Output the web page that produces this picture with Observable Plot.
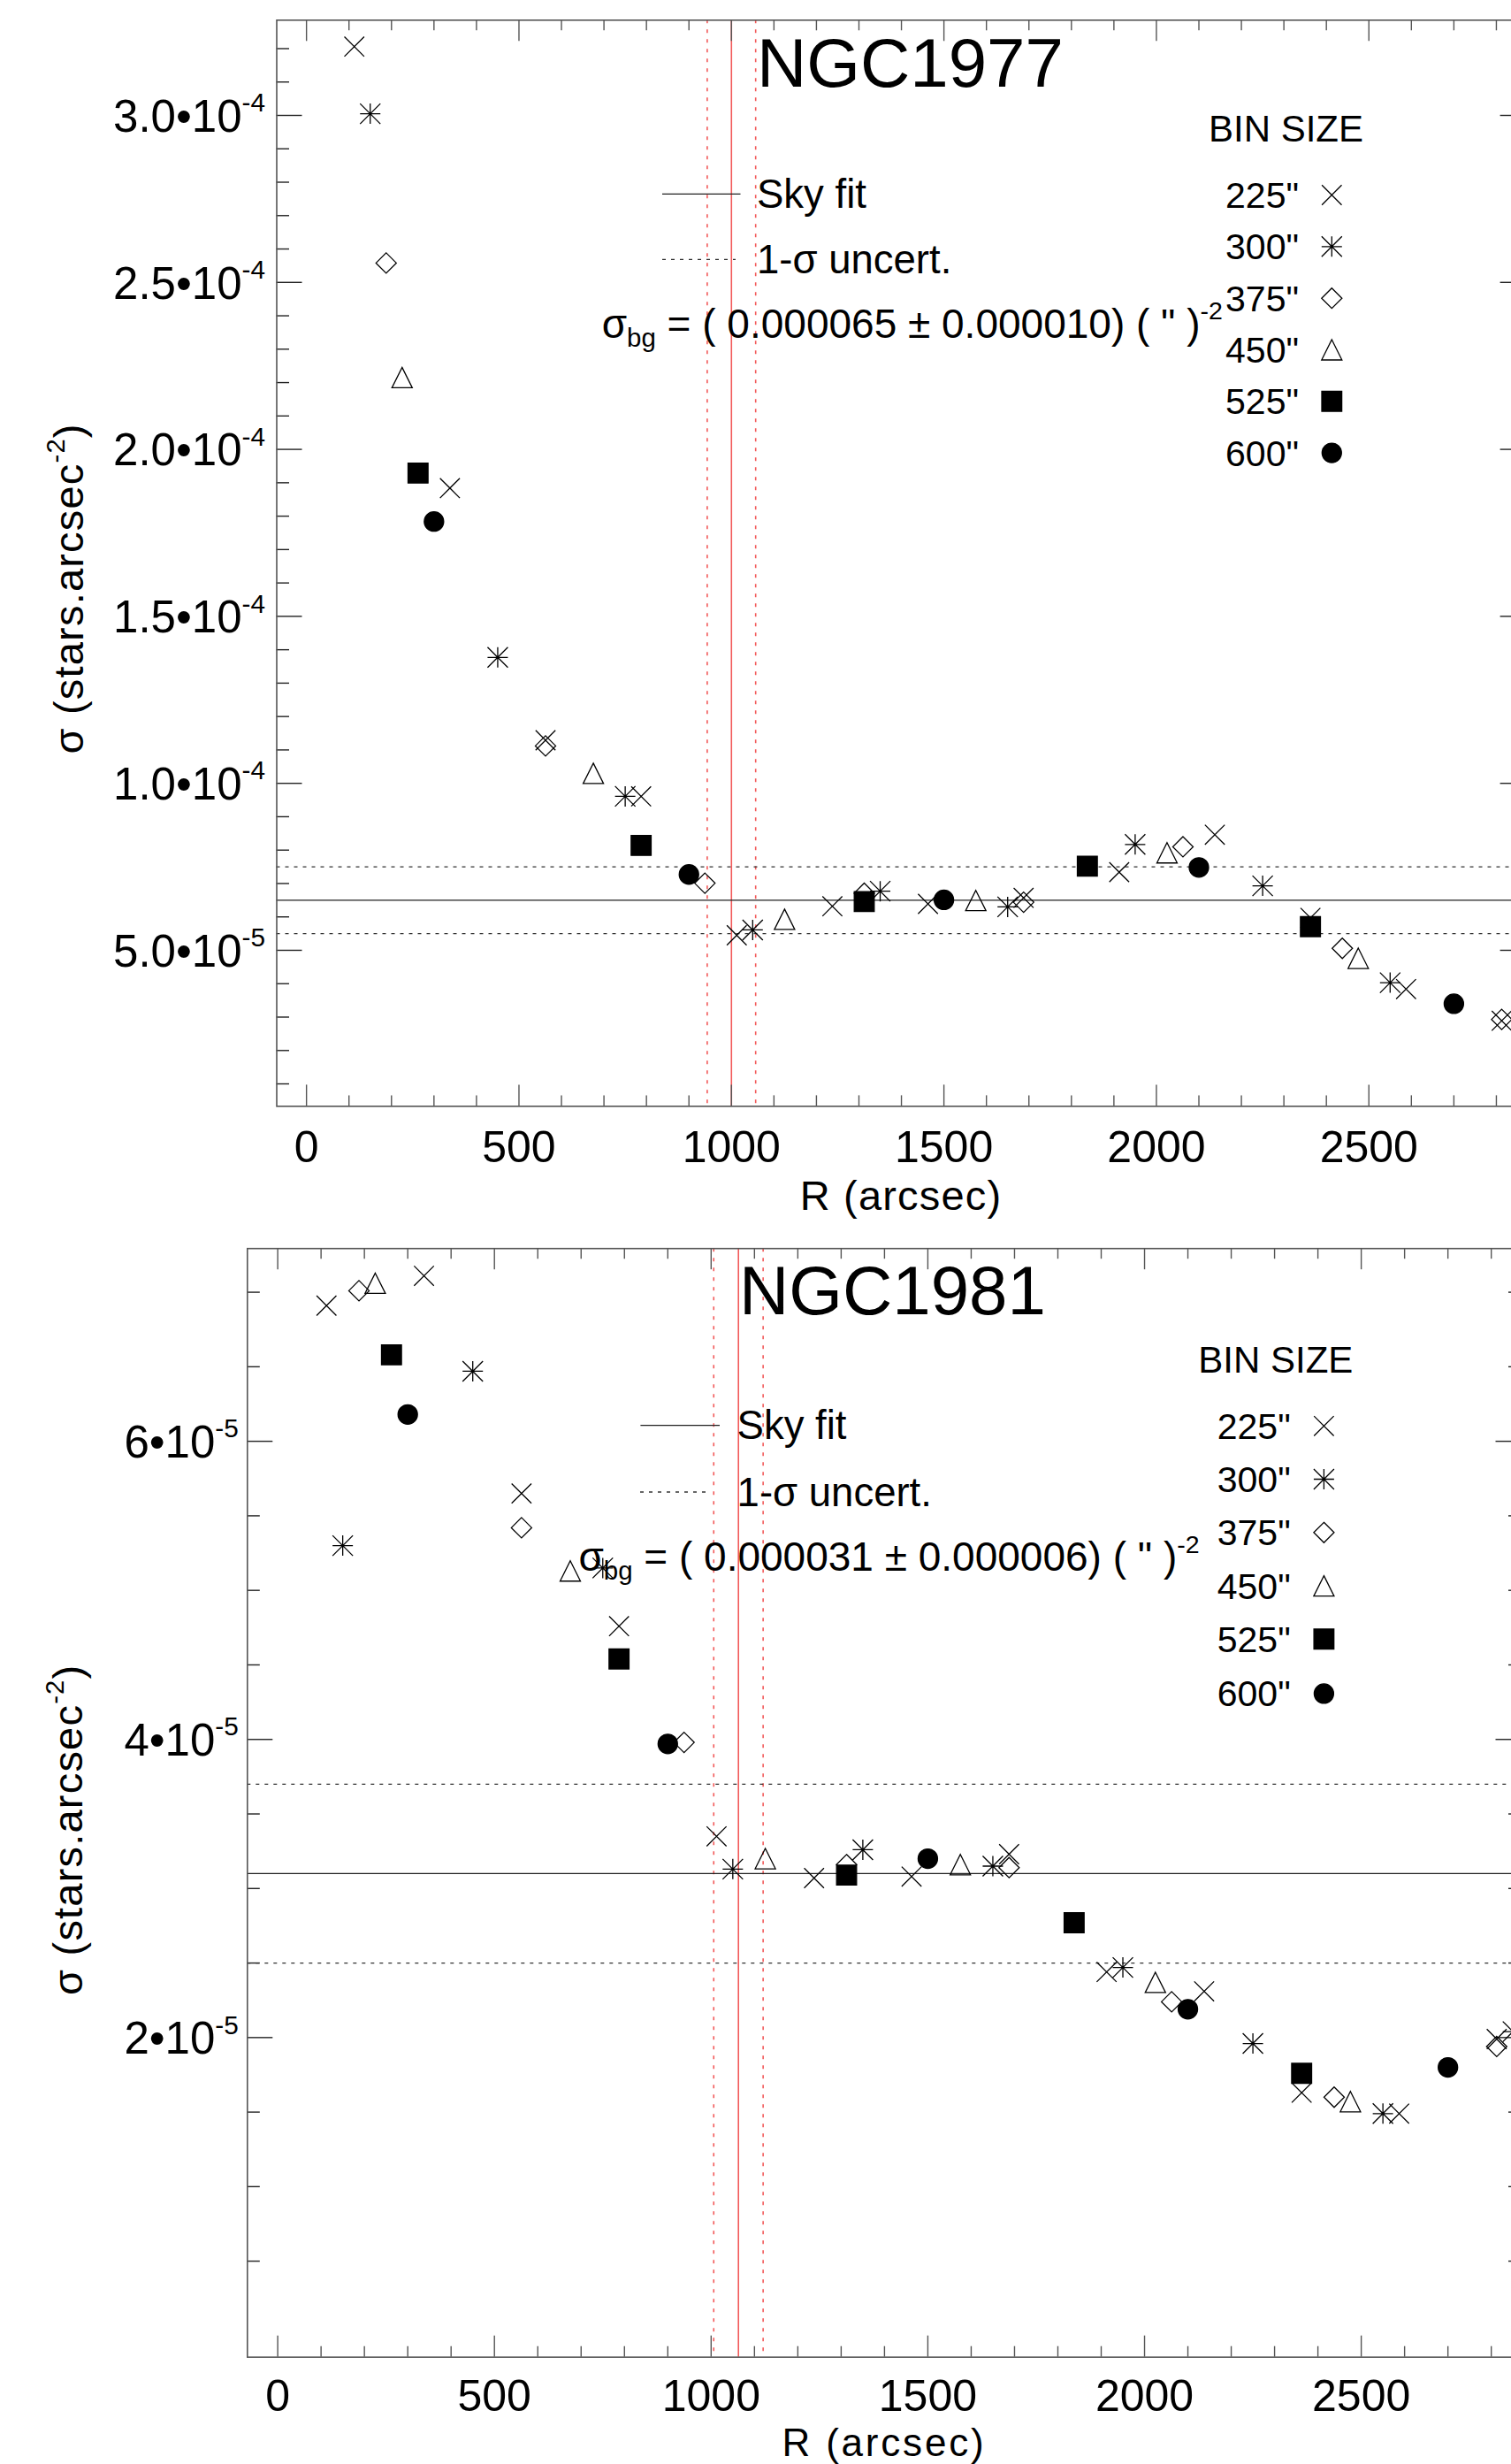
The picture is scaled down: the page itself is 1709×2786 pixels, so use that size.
<!DOCTYPE html>
<html>
<head>
<meta charset="utf-8">
<script src="https://cdn.jsdelivr.net/npm/d3@7"></script>
<script src="https://cdn.jsdelivr.net/npm/@observablehq/plot@0.6"></script>
<style>
  html, body { margin: 0; padding: 0; background: #fff; overflow: hidden; }
  #wrap { width: 1709px; height: 2786px; overflow: hidden; position: relative; background: #fff; }
  #wrap svg { display: block; max-width: none !important; }
</style>
</head>
<body>
<div id="wrap"></div>
<script>
// ---------------- DATA ----------------
const binLabels = ['225"', '300"', '375"', '450"', '525"', '600"'];

// radial bin centres (arcsec) per bin size
const r225 = [112.5, 337.5, 562.5, 787.5, 1012.5, 1237.5, 1462.5, 1687.5, 1912.5, 2137.5, 2362.5, 2587.5, 2812.5];
const r300 = [150, 450, 750, 1050, 1350, 1650, 1950, 2250, 2550, 2850];
const r375 = [187.5, 562.5, 937.5, 1312.5, 1687.5, 2062.5, 2437.5, 2812.5];
const r450 = [225, 675, 1125, 1575, 2025, 2475];
const r525 = [262.5, 787.5, 1312.5, 1837.5, 2362.5];
const r600 = [300, 900, 1500, 2100, 2700];

// NGC1977 surface density (stars arcsec^-2)
const n1977_225 = [3.206e-4, 1.884e-4, 1.129e-4, 9.61e-5, 5.45e-5, 6.32e-5, 6.39e-5, 6.57e-5, 7.34e-5, 8.46e-5, 5.97e-5, 3.84e-5, 2.89e-5];
const n1977_300 = [3.005e-4, 1.377e-4, 9.61e-5, 5.61e-5, 6.77e-5, 6.30e-5, 8.17e-5, 6.93e-5, 4.03e-5, null];
const n1977_375 = [2.558e-4, 1.112e-4, 7.01e-5, 6.71e-5, 6.44e-5, 8.10e-5, 5.06e-5, 2.93e-5];
const n1977_450 = [2.215e-4, 1.03e-4, 5.93e-5, 6.49e-5, 7.92e-5, 4.76e-5];
const n1977_525 = [1.929e-4, 8.14e-5, 6.46e-5, 7.52e-5, 5.71e-5];
const n1977_600 = [1.784e-4, 7.27e-5, 6.51e-5, 7.48e-5, 3.40e-5];

// NGC1981 surface density (stars arcsec^-2)
const n1981_225 = [6.91e-5, 7.11e-5, 5.65e-5, 4.76e-5, 3.35e-5, 3.07e-5, 3.08e-5, 3.23e-5, 2.44e-5, 2.31e-5, 1.63e-5, 1.49e-5, 1.99e-5];
const n1981_300 = [5.30e-5, 6.47e-5, 5.15e-5, 3.13e-5, 3.26e-5, 3.15e-5, 2.47e-5, 1.96e-5, 1.49e-5, 2.04e-5];
const n1981_375 = [7.01e-5, 5.42e-5, 3.98e-5, 3.16e-5, 3.14e-5, 2.24e-5, 1.60e-5, 1.94e-5];
const n1981_450 = [7.06e-5, 5.13e-5, 3.20e-5, 3.16e-5, 2.37e-5, 1.57e-5];
const n1981_525 = [6.58e-5, 4.54e-5, 3.09e-5, 2.77e-5, 1.76e-5];
const n1981_600 = [6.18e-5, 3.97e-5, 3.20e-5, 2.19e-5, 1.80e-5];

// sky fits
const sky1977 = 6.5e-5, skyErr1977 = [5.5e-5, 7.5e-5];
const sky1981 = 3.1e-5, skyErr1981 = [2.5e-5, 3.7e-5];
// red radius lines
const red1977 = 1000, redErr1977 = [943, 1057];
const red1981 = 1063, redErr1981 = [1006, 1120];

// ticks
const xMajor = [0, 500, 1000, 1500, 2000, 2500];
const xMajorLabels = ["0", "500", "1000", "1500", "2000", "2500"];
const yMajor1977 = [5e-5, 1e-4, 1.5e-4, 2e-4, 2.5e-4, 3e-4];
const yLabels1977 = ["5.0•10^-5", "1.0•10^-4", "1.5•10^-4", "2.0•10^-4", "2.5•10^-4", "3.0•10^-4"];
const yMajor1981 = [2e-5, 4e-5, 6e-5];
const yLabels1981 = ["2•10^-5", "4•10^-5", "6•10^-5"];

// ---------------- SYMBOLS (IDL psym 7,2,4,5,6-filled,circle) ----------------
const rad = (size) => Math.sqrt(size / Math.PI);
const SYM = {
  times: {draw(c, size) { const s = rad(size); c.moveTo(-s, -s); c.lineTo(s, s); c.moveTo(-s, s); c.lineTo(s, -s); }},
  asterisk: {draw(c, size) { const s = rad(size); c.moveTo(-s, -s); c.lineTo(s, s); c.moveTo(-s, s); c.lineTo(s, -s); c.moveTo(0, -s); c.lineTo(0, s); c.moveTo(-s, 0); c.lineTo(s, 0); }},
  diamond: {draw(c, size) { const s = rad(size); c.moveTo(0, -s); c.lineTo(s, 0); c.lineTo(0, s); c.lineTo(-s, 0); c.closePath(); }},
  triangle: {draw(c, size) { const s = rad(size); c.moveTo(0, -s); c.lineTo(s, s); c.lineTo(-s, s); c.closePath(); }},
  square: {draw(c, size) { const s = rad(size); c.rect(-s, -s, 2 * s, 2 * s); }},
  circle: {draw(c, size) { const s = rad(size); c.moveTo(s, 0); c.arc(0, 0, s, 0, 2 * Math.PI); }}
};
const seriesStyle = [
  {sym: "times", fill: false, r: 11.2},
  {sym: "asterisk", fill: false, r: 11.5},
  {sym: "diamond", fill: false, r: 11.5},
  {sym: "triangle", fill: false, r: 11.5},
  {sym: "square", fill: true, r: 11.3},
  {sym: "circle", fill: true, r: 11}
];
const rArrays = [r225, r300, r375, r450, r525, r600];

const FONT = "'Liberation Sans', Arial, Helvetica, sans-serif";
const W = 1760;

function rich(sel, x, y, parts, {size, anchor = "start", rotate = 0, ls = 0}) {
  const t = sel.append("text").attr("x", x).attr("y", y)
    .attr("font-size", size).attr("text-anchor", anchor).attr("fill", "#000")
    .attr("font-family", FONT);
  if (rotate) t.attr("transform", `rotate(${rotate},${x},${y})`);
  if (ls) t.attr("letter-spacing", ls);
  let shift = 0;
  for (const p of parts) {
    const ts = t.append("tspan").text(p.t);
    let target = 0, fs = size;
    if (p.sup) { target = -0.44 * size; fs = 0.62 * size; }
    if (p.sub) { target = 0.22 * size; fs = 0.64 * size; }
    ts.attr("font-size", fs);
    if (target !== shift) { ts.attr("dy", target - shift); shift = target; }
  }
  return t;
}

function fixSup(svg) {
  svg.querySelectorAll("text").forEach(t => {
    const s = t.textContent;
    if (!s.includes("^")) return;
    const [base, sup] = s.split("^");
    const fs = parseFloat(t.getAttribute("font-size") || getComputedStyle(t).fontSize) || 48;
    t.textContent = "";
    const a = document.createElementNS("http://www.w3.org/2000/svg", "tspan");
    a.textContent = base; t.appendChild(a);
    const b = document.createElementNS("http://www.w3.org/2000/svg", "tspan");
    b.textContent = sup; b.setAttribute("font-size", 0.62 * fs); b.setAttribute("dy", -0.47 * fs);
    t.appendChild(b);
  });
}

function panel(cfg) {
  const plotW = W - cfg.ml - cfg.mr;
  const plotH = cfg.H - cfg.mt - cfg.mb;
  const axisCol = "#555";
  const xMinor = d3.range(100, 2870, 100).filter(v => v % 500 !== 0);
  const yLabelMap = new Map(cfg.yMajor.map((v, i) => [v, cfg.yLabels[i]]));
  const xLabelMap = new Map(xMajor.map((v, i) => [v, xMajorLabels[i]]));
  const marks = [
    // red radius lines
    Plot.ruleX([cfg.red], {stroke: "#f25a5a", strokeWidth: 1.6}),
    Plot.ruleX(cfg.redErr, {stroke: "#f25a5a", strokeWidth: 1.6, strokeDasharray: "4,7"}),
    // sky level
    Plot.ruleY([cfg.sky], {stroke: "#222", strokeWidth: 1.3}),
    Plot.ruleY(cfg.skyErr, {stroke: "#333", strokeWidth: 1.3, strokeDasharray: "4,6"}),
    // ticks (inward, IDL style) on all four sides
    Plot.ruleX(xMajor, {stroke: axisCol, strokeWidth: 1.4, insetTop: plotH - 24}),
    Plot.ruleX(xMajor, {stroke: axisCol, strokeWidth: 1.4, insetBottom: plotH - 24}),
    Plot.ruleX(xMinor, {stroke: axisCol, strokeWidth: 1.4, insetTop: plotH - 12}),
    Plot.ruleX(xMinor, {stroke: axisCol, strokeWidth: 1.4, insetBottom: plotH - 12}),
    Plot.ruleY(cfg.yMajor, {stroke: "#222", strokeWidth: 1.4, insetRight: plotW - 29}),
    Plot.ruleY(cfg.yMajor, {stroke: "#222", strokeWidth: 1.4, insetLeft: plotW - 29}),
    Plot.ruleY(cfg.yMinor, {stroke: "#222", strokeWidth: 1.4, insetRight: plotW - 14.5}),
    Plot.ruleY(cfg.yMinor, {stroke: "#222", strokeWidth: 1.4, insetLeft: plotW - 14.5}),
    Plot.frame({stroke: axisCol, strokeWidth: 1.6}),
    Plot.axisX(xMajor, {anchor: "bottom", tickSize: 0, tickPadding: cfg.xPad, fontSize: 50,
      tickFormat: d => xLabelMap.get(d), label: null}),
    Plot.axisY(cfg.yMajor, {anchor: "left", tickSize: 0, tickPadding: cfg.yPad, fontSize: 51,
      tickFormat: d => yLabelMap.get(d), label: null, dy: 2})
  ];
  cfg.values.forEach((vals, k) => {
    const st = seriesStyle[k];
    const data = rArrays[k].map((R, i) => ({R, s: vals[i]})).filter(d => d.s != null);
    marks.push(Plot.dot(data, {
      x: "R", y: "s", symbol: SYM[st.sym], r: st.r,
      fill: st.fill ? "#000" : "none", stroke: "#000", strokeWidth: 1.3
    }));
  });
  const svg = Plot.plot({
    width: W, height: cfg.H,
    marginTop: cfg.mt, marginBottom: cfg.mb, marginLeft: cfg.ml, marginRight: cfg.mr,
    style: {fontFamily: FONT, background: "#fff", maxWidth: "none", overflow: "hidden"},
    x: {domain: [-70, 2870]},
    y: {domain: cfg.yDomain},
    marks
  });
  fixSup(svg);
  const g = d3.select(svg).append("g").attr("class", "annotations");
  const A = cfg.ann;
  // title
  rich(g, A.title[0], A.title[1], [{t: cfg.name}], {size: 78});
  // Sky fit legend
  g.append("line").attr("x1", A.sky[0]).attr("x2", A.sky[1]).attr("y1", A.sky[2]).attr("y2", A.sky[2])
    .attr("stroke", "#222").attr("stroke-width", 1.3);
  rich(g, A.skyText[0], A.skyText[1], [{t: "Sky fit"}], {size: 45.5});
  g.append("line").attr("x1", A.err[0]).attr("x2", A.err[1]).attr("y1", A.err[2]).attr("y2", A.err[2])
    .attr("stroke", "#333").attr("stroke-width", 1.3).attr("stroke-dasharray", "4,6");
  rich(g, A.errText[0], A.errText[1], [{t: "1-σ uncert."}], {size: 45.5});
  rich(g, A.sigma[0], A.sigma[1], [
    {t: "σ"}, {t: "bg", sub: true}, {t: " = ( " + cfg.skyText + ") ( \" )"}, {t: "-2", sup: true}
  ], {size: 46});
  // bin size legend
  rich(g, A.bin[0], A.bin[1], [{t: "BIN SIZE"}], {size: 42});
  binLabels.forEach((lab, k) => {
    const y = A.entryY[k];
    rich(g, A.entryX, y, [{t: lab}], {size: 41, anchor: "end"});
    const st = seriesStyle[k];
    const p = d3.path(); SYM[st.sym].draw(p, st.r * st.r * Math.PI);
    g.append("path").attr("d", p.toString())
      .attr("transform", `translate(${A.symX},${y - 14.5})`)
      .attr("fill", st.fill ? "#000" : "none").attr("stroke", "#000").attr("stroke-width", 1.3);
  });
  // axis titles
  rich(g, A.xTitle[0], A.xTitle[1], [{t: "R (arcsec)"}], {size: A.xTitle[2], anchor: "middle", ls: A.xTitle[3]});
  rich(g, A.yTitle[0], A.yTitle[1], [{t: "σ (stars.arcsec"}, {t: "-2", sup: true}, {t: ")"}],
    {size: 47, anchor: "middle", rotate: -90, ls: 1.2});
  return svg;
}

const wrap = document.getElementById("wrap");

const yMinor1977 = d3.range(1, 33).map(k => k * 1e-5).filter(v => Math.round(v * 1e5) % 5 !== 0);
const yMinor1981 = d3.range(1, 15).map(k => k * 0.5e-5).filter(v => Math.round(v * 2e5) % 4 !== 0);

wrap.appendChild(panel({
  name: "NGC1977", H: 1395, mt: 22.3, mb: 1395 - 1250.4, ml: 312.5, mr: W - 1725.6,
  yDomain: [3.28e-6, 3.2852e-4],
  yMajor: yMajor1977, yLabels: yLabels1977, yMinor: yMinor1977,
  xPad: 28, yPad: 13,
  values: [n1977_225, n1977_300, n1977_375, n1977_450, n1977_525, n1977_600],
  sky: sky1977, skyErr: skyErr1977, red: red1977, redErr: redErr1977,
  skyText: "0.000065 ± 0.000010",
  ann: {
    title: [856, 98], sky: [749, 837.5, 219.3], skyText: [856, 235],
    err: [749, 832, 293.3], errText: [856, 308.5], sigma: [680.7, 381.7],
    bin: [1367, 160], entryX: 1469, entryY: [235, 293.3, 351.7, 410, 468.3, 526.6], symX: 1506.3,
    xTitle: [1019, 1368.3, 47, 1.2], yTitle: [94, 665.4]
  }
}));

wrap.appendChild(panel({
  name: "NGC1981", H: 1391, mt: 1411.2 - 1395, mb: 1391 - (2664.7 - 1395), ml: 279.3, mr: W - 1720.5,
  yDomain: [-1.44e-6, 7.293e-5],
  yMajor: yMajor1981, yLabels: yLabels1981, yMinor: yMinor1981,
  xPad: 25.5, yPad: 10,
  values: [n1981_225, n1981_300, n1981_375, n1981_450, n1981_525, n1981_600],
  sky: sky1981, skyErr: skyErr1981, red: red1981, redErr: redErr1981,
  skyText: "0.000031 ± 0.000006",
  ann: {
    title: [836, 91], sky: [724.4, 814, 216.6], skyText: [833.6, 231.8],
    err: [724, 799, 292], errText: [833.6, 307.7], sigma: [654.4, 381.3],
    bin: [1355.3, 156.8], entryX: 1459.7, entryY: [231.8, 292, 352.3, 412.6, 472.8, 534.4], symX: 1497.4,
    xTitle: [1000, 1381.5, 44, 2.8], yTitle: [93, 673.8]
  }
}));
</script>
</body>
</html>
